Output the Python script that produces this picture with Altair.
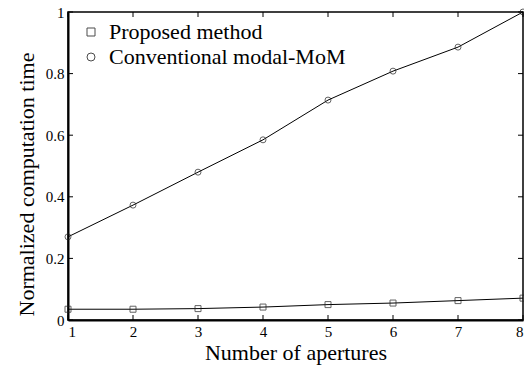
import altair as alt
import pandas as pd

# Number of apertures and normalized computation times for each solver
apertures = [1, 2, 3, 4, 5, 6, 7, 8]
proposed = [0.035, 0.035, 0.037, 0.042, 0.050, 0.055, 0.063, 0.071]
conventional = [0.270, 0.373, 0.480, 0.585, 0.714, 0.808, 0.886, 1.000]
series_names = ["Proposed method", "Conventional modal-MoM"]
x_ticks = [1, 2, 3, 4, 5, 6, 7, 8]
y_ticks = [0, 0.2, 0.4, 0.6, 0.8, 1]

rows = []
for n, p, c in zip(apertures, proposed, conventional):
    rows.append({"n": n, "t": p, "method": series_names[0]})
    rows.append({"n": n, "t": c, "method": series_names[1]})
df = pd.DataFrame(rows)
xt = pd.DataFrame({"v": x_ticks})
yt = pd.DataFrame({"v": y_ticks})

W, H = 455, 308
FONT = "Liberation Serif"

xs = alt.Scale(domain=[1, 8], nice=False, zero=False)
ys = alt.Scale(domain=[0, 1], nice=False)

x_enc = alt.X("n:Q", scale=xs, title="Number of apertures",
              axis=alt.Axis(values=x_ticks, format="d", tickSize=0, labelPadding=4,
                            titlePadding=3, grid=False))
y_enc = alt.Y("t:Q", scale=ys, title="Normalized computation time",
              axis=alt.Axis(values=y_ticks, format="~g", tickSize=0, labelPadding=4,
                            titlePadding=7, titleY=172, grid=False))

lines = alt.Chart(df).mark_line(color="black", strokeWidth=1).encode(
    x=x_enc, y=y_enc, detail="method:N")

points = alt.Chart(df).mark_point(filled=False, size=36, strokeWidth=1, color="#222").encode(
    x=alt.X("n:Q", scale=xs),
    y=alt.Y("t:Q", scale=ys),
    shape=alt.Shape("method:N",
                    scale=alt.Scale(domain=series_names, range=["square", "circle"]),
                    legend=alt.Legend(title=None, orient="none", legendX=12, legendY=9,
                                      labelFont=FONT, labelFontSize=22, labelColor="black",
                                      labelLimit=400,
                                      symbolSize=64, symbolFillColor="white",
                                      symbolStrokeColor="black", symbolStrokeWidth=1,
                                      rowPadding=3, labelOffset=7, padding=0)),
)

# inward tick marks on all four sides
tick_len = 5
bottom_ticks = alt.Chart(xt).mark_rule(color="black", strokeWidth=1).encode(
    x=alt.X("v:Q", scale=xs), y=alt.value(H), y2=alt.value(H - tick_len))
top_ticks = alt.Chart(xt).mark_rule(color="black", strokeWidth=1).encode(
    x=alt.X("v:Q", scale=xs), y=alt.value(0), y2=alt.value(tick_len))
left_ticks = alt.Chart(yt).mark_rule(color="black", strokeWidth=1).encode(
    y=alt.Y("v:Q", scale=ys), x=alt.value(0), x2=alt.value(tick_len))
right_ticks = alt.Chart(yt).mark_rule(color="black", strokeWidth=1).encode(
    y=alt.Y("v:Q", scale=ys), x=alt.value(W), x2=alt.value(W - tick_len))

chart = alt.layer(lines, points, bottom_ticks, top_ticks, left_ticks, right_ticks).properties(
    width=W, height=H,
    background="white",
    padding={"left": 68, "top": 12, "right": 1, "bottom": 46},
    autosize=alt.AutoSizeParams(type="none"),
).configure_view(stroke="black", strokeWidth=1.5).configure_axis(
    domainColor="black", domainWidth=2, labelFont=FONT, labelFontSize=15,
    labelColor="black", titleFont=FONT, titleFontSize=22, titleFontWeight="normal",
    titleColor="black",
)

chart.save("out.html", embed_options={"renderer": "svg", "actions": False})
